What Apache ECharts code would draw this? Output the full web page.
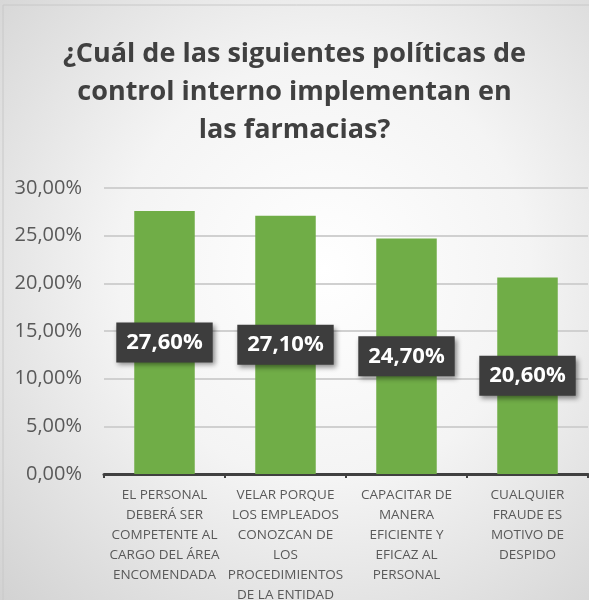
<!DOCTYPE html>
<html>
<head>
<meta charset="utf-8">
<script src="https://cdn.jsdelivr.net/npm/echarts@6/dist/echarts.min.js"></script>
<style>
  html, body { margin: 0; padding: 0; background: #fff; }
  #chart {
    width: 589px; height: 600px;
    background: radial-gradient(ellipse at 55% 45%, #ffffff 0%, #f4f4f4 45%, #d2d2d2 100%);
  }
</style>
</head>
<body>
<div id="chart"></div>
<script>
// categorias y valores (%)
var categories = [
  "EL PERSONAL\nDEBERÁ SER\nCOMPETENTE AL\nCARGO DEL ÁREA\nENCOMENDADA",
  "VELAR PORQUE\nLOS EMPLEADOS\nCONOZCAN DE\nLOS\nPROCEDIMIENTOS\nDE LA ENTIDAD",
  "CAPACITAR DE\nMANERA\nEFICIENTE Y\nEFICAZ AL\nPERSONAL",
  "CUALQUIER\nFRAUDE ES\nMOTIVO DE\nDESPIDO"
];
var values = [27.6, 27.1, 24.7, 20.6];
var yTicks = [0, 5, 10, 15, 20, 25, 30];

function pct(v) {
  return v.toFixed(2).replace(".", ",") + "%";
}

var chart = echarts.init(document.getElementById("chart"));
var option = {
  title: {
    text: "¿Cuál de las siguientes políticas de\ncontrol interno implementan en\nlas farmacias?",
    left: "center",
    top: 30,
    textStyle: {
      fontFamily: "Open Sans",
      fontWeight: "bold",
      fontSize: 27,
      lineHeight: 38,
      color: "#404040"
    }
  },
  grid: {
    left: 104,
    right: 1,
    top: 188,
    bottom: 126,
    outerBoundsMode: "none"
  },
  xAxis: {
    type: "category",
    data: categories,
    axisLine: { lineStyle: { color: "#404040", width: 3 } },
    axisTick: { show: true, length: 4, lineStyle: { color: "#404040", width: 2 } },
    axisLabel: {
      interval: 0,
      margin: 11,
      fontFamily: "Open Sans",
      fontSize: 13.5,
      lineHeight: 20,
      color: "#595959"
    }
  },
  yAxis: {
    type: "value",
    min: yTicks[0],
    max: yTicks[yTicks.length - 1],
    interval: 5,
    axisLine: { show: false },
    axisTick: { show: false },
    splitLine: { lineStyle: { color: "#d0d0d0", width: 2 } },
    axisLabel: {
      margin: 22,
      fontFamily: "Open Sans",
      fontSize: 20,
      color: "#595959",
      formatter: function (v) { return pct(v); }
    }
  },
  series: [
    {
      type: "bar",
      data: values,
      barWidth: "50%",
      itemStyle: { color: "#70ad47" },
      label: {
        show: true,
        position: "inside",
        formatter: function (p) { return pct(p.value); },
        fontFamily: "Open Sans",
        fontWeight: "bold",
        fontSize: 22,
        color: "#ffffff",
        backgroundColor: "#3d3d3d",
        padding: [10, 10, 8, 10],
        shadowColor: "rgba(0,0,0,0.45)",
        shadowBlur: 5,
        shadowOffsetX: 2,
        shadowOffsetY: 3
      }
    }
  ],
  graphic: [
    {
      type: "rect",
      shape: { x: 3, y: 5, width: 600, height: 600 },
      style: { fill: "none", stroke: "#c8c8c8", lineWidth: 1 },
      silent: true
    }
  ]
};
chart.setOption(option);
window.addEventListener("resize", function () {
  chart.resize();
});
</script>
</body>
</html>
